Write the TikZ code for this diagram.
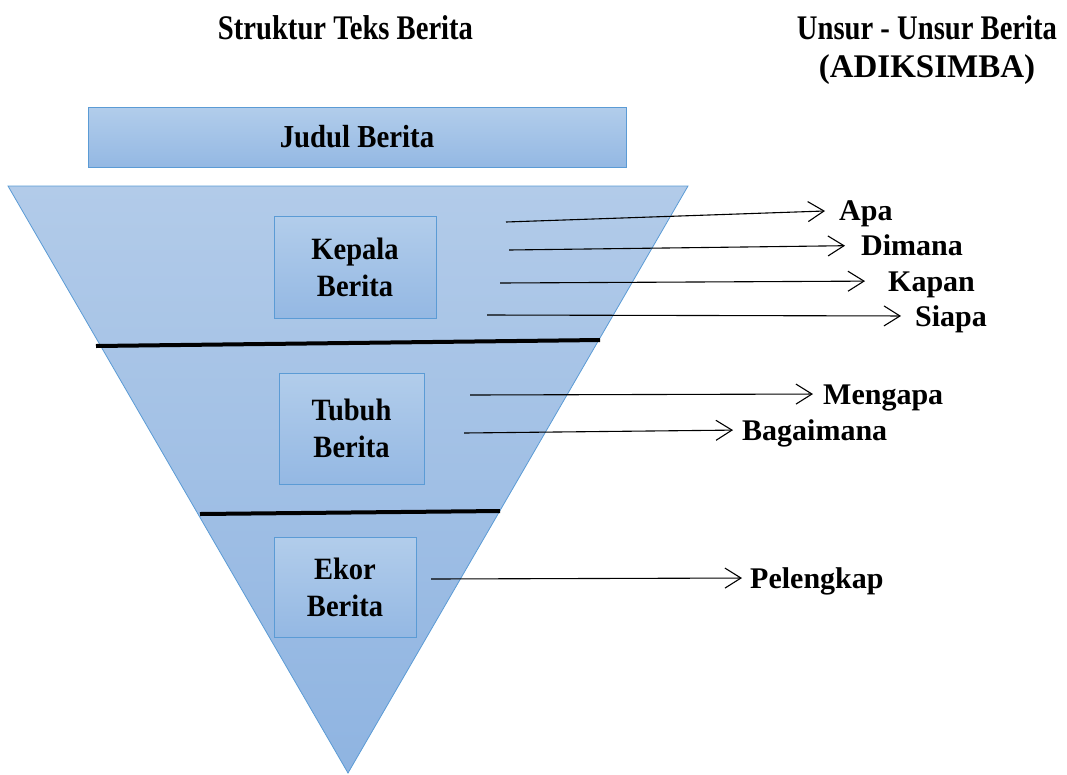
\documentclass[tikz,border=0pt]{standalone}
\usepackage{fontspec}
\setmainfont{Liberation Serif}
\newfontfamily\titlefont{Liberation Serif}[FakeStretch=0.83]
\newfontfamily\boxfont{Liberation Serif}[FakeStretch=0.92]
\newfontfamily\judulfont{Liberation Serif}[FakeStretch=0.9]
\usetikzlibrary{arrows.meta}
\definecolor{bordercol}{RGB}{91,155,213}
\definecolor{tritop}{RGB}{178,203,233}
\definecolor{tribot}{RGB}{143,180,225}
\definecolor{boxtop}{RGB}{178,205,235}
\definecolor{boxbot}{RGB}{148,184,227}
\tikzset{
  boxstyle/.style={draw=bordercol, line width=0.9pt, top color=boxtop, bottom color=boxbot,
    inner sep=0pt, align=center, font=\boxfont\bfseries\fontsize{31}{37}\selectfont},
  lbl/.style={anchor=west, inner sep=0pt, text height=20pt, text depth=0pt,
    font=\bfseries\fontsize{30}{30}\selectfont},
  arr/.style={-{Straight Barb[length=16pt,width=20pt]}, line width=1.1pt},
  sepline/.style={line width=4pt, black},
}
\begin{document}
\begin{tikzpicture}[x=1pt,y=-1pt]
\path[use as bounding box] (0,0) rectangle (1067,774);
% titles
\node[inner sep=0pt, text height=23pt, text depth=0pt, font=\titlefont\bfseries\fontsize{34.5}{34.5}\selectfont] (t1) at (345.5,28) {Struktur Teks Berita};
\node[inner sep=0pt, align=center, font=\bfseries\fontsize{33}{38}\selectfont] (t2) at (927,50) {{\titlefont\fontsize{34.5}{38}\selectfont Unsur - Unsur Berita}\\(ADIKSIMBA)};
% judul
\node[boxstyle, minimum width=538pt, minimum height=60pt, font=\judulfont\bfseries\fontsize{32}{32}\selectfont] (judul) at (357,137) {Judul Berita};
% triangle
\path[draw=bordercol, line width=0.8pt, top color=tritop, bottom color=tribot]
  (8,186) -- (688,186) -- (348,773) -- cycle;
% boxes
\node[boxstyle, minimum width=162pt, minimum height=102pt] (kepala) at (355,267) {Kepala\\Berita};
\node[boxstyle, minimum width=145pt, minimum height=111pt] (tubuh) at (351.5,428.5) {Tubuh\\Berita};
\node[boxstyle, minimum width=142pt, minimum height=100pt] (ekor) at (345,587) {Ekor\\Berita};
% separators
\draw[sepline] (96,346) -- (600,340);
\draw[sepline] (200,514) -- (500,511);
% labels
\node[lbl] (apa) at (839,210.5) {Apa};
\node[lbl] (dimana) at (861,245.5) {Dimana};
\node[lbl] (kapan) at (888,281) {Kapan};
\node[lbl] (siapa) at (915,316) {Siapa};
\node[lbl] (mengapa) at (823,394) {Mengapa};
\node[lbl] (bagaimana) at (742,430) {Bagaimana};
\node[lbl] (pelengkap) at (750,578) {Pelengkap};
% arrow starts
\coordinate (sA) at (506,222);
\coordinate (sD) at (509,250);
\coordinate (sK) at (500,283);
\coordinate (sS) at (487,315);
\coordinate (sM) at (470,395);
\coordinate (sB) at (464,433);
\coordinate (sP) at (431,579);
\draw[arr, shorten >=14pt] (sA) -- (apa.west);
\draw[arr, shorten >=16pt] (sD) -- (dimana.west);
\draw[arr, shorten >=23pt] (sK) -- (kapan.west);
\draw[arr, shorten >=14pt] (sS) -- (siapa.west);
\draw[arr, shorten >=10pt] (sM) -- (mengapa.west);
\draw[arr, shorten >=9pt] (sB) -- (bagaimana.west);
\draw[arr, shorten >=8pt] (sP) -- (pelengkap.west);
\end{tikzpicture}
\end{document}
